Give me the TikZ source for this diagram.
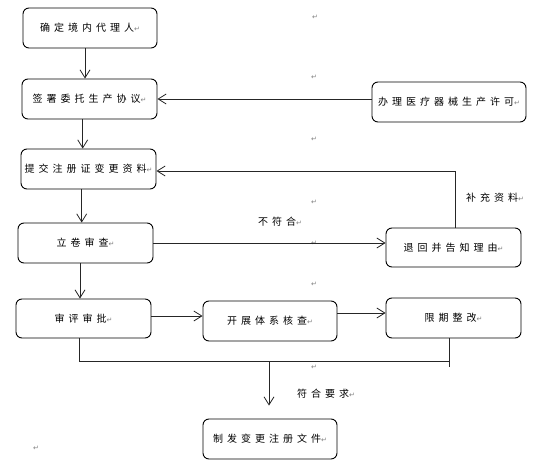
\documentclass[tikz,border=0pt]{standalone}
\usepackage{fontspec}
\usetikzlibrary{arrows.meta}
\newfontfamily\cjkfont[LetterSpace=40]{Noto Sans CJK SC}
\newfontfamily\markfont{DejaVu Sans}
\newcommand{\pmark}{{\markfont\fontsize{7}{7}\selectfont\textcolor{gray}{↵}}}
\tikzset{
  box/.style={draw=black, line width=0.9pt, rounded corners=6pt, minimum height=40pt,
    inner sep=0pt, font=\cjkfont\fontsize{10}{12}\selectfont, align=center},
  conn/.style={draw=black!85, line width=0.8pt},
  arr/.style={conn, -{Straight Barb[length=8pt,width=10pt,line width=0.8pt]}},
  lbl/.style={font=\cjkfont\fontsize{10}{12}\selectfont, inner sep=0pt},
  stray/.style={inner sep=0pt}
}
\begin{document}
\begin{tikzpicture}[x=1pt,y=-1pt]
\useasboundingbox (0,0) rectangle (546,476);
% nodes
\node[box, minimum width=134pt] (b1) at (90,28) {确定境内代理人\pmark};
\node[box, minimum width=135pt] (b2) at (89.5,99) {签署委托生产协议\pmark};
\node[box, minimum width=135pt] (b3) at (88.5,169) {提交注册证变更资料\pmark};
\node[box, minimum width=154pt] (b4) at (449,102) {办理医疗器械生产许可\pmark};
\node[box, minimum width=135pt] (lj) at (85.5,243) {立卷审查\pmark};
\node[box, minimum width=135pt, minimum height=39pt] (th) at (453.5,247.5) {退回并告知理由\pmark};
\node[box, minimum width=135pt, minimum height=39pt] (sp) at (83.5,318.5) {审评审批\pmark};
\node[box, minimum width=134pt] (kz) at (270,321) {开展体系核查\pmark};
\node[box, minimum width=135pt] (xq) at (453.5,318) {限期整改\pmark};
\node[box, minimum width=134pt] (zf) at (270,439) {制发变更注册文件\pmark};
% labels
\node[lbl] (l1) at (280,222) {不符合\pmark};
\node[lbl] (l2) at (495,198) {补充资料\pmark};
\node[lbl] (l3) at (326,394) {符合要求\pmark};
% stray paragraph marks
\node[stray] at (315,17) {\pmark};
\node[stray] at (314,77) {\pmark};
\node[stray] at (314,139) {\pmark};
\node[stray] at (314,202) {\pmark};
\node[stray] at (314,243) {\pmark};
\node[stray] at (314,284) {\pmark};
\node[stray] at (314,367) {\pmark};
\node[stray] at (36,448) {\pmark};
% coordinates
\coordinate (fb) at (455,171);
\coordinate (j1) at (79,361);
\coordinate (j2) at (449,361);
\coordinate (j3) at (269,361);
\coordinate (j4) at (449,367);
% connectors
\draw[arr] (b1.south -| 85,0) -- (b2.north -| 85,0);
\draw[arr] (b2.south -| 82.7,0) -- (b3.north -| 82.7,0);
\draw[arr] (b4.west |- b2.east) -- (b2.east);
\draw[arr] (b3.south -| 81.7,0) -- (lj.north -| 81.7,0);
\draw[arr] (lj.east) -- (lj.east -| th.west);
\draw[conn] (th.north -| fb) -- (fb);
\draw[arr] (fb) -- (fb -| b3.east);
\draw[arr] (lj.south -| 80,0) -- (sp.north -| 80,0);
\draw[arr] (sp.east |- 0,316) -- (kz.west |- 0,316);
\draw[arr] (kz.east |- 0,313) -- (xq.west |- 0,313);
\draw[conn] (sp.south -| j1) -- (j1) -- (j2);
\draw[conn] (xq.south -| j2) -- (j4);
\draw[arr, shorten >=13pt] (j3) -- (zf.north -| j3);
\end{tikzpicture}
\end{document}
